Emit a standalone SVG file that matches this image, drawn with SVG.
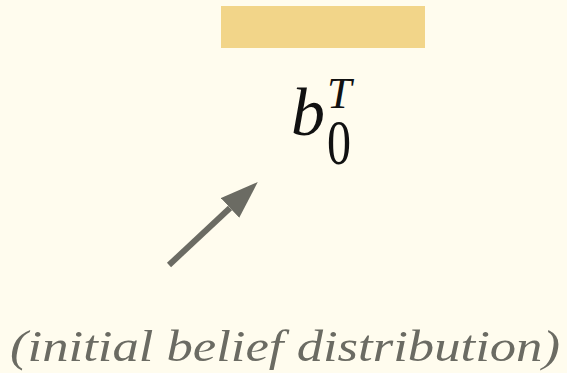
<svg xmlns="http://www.w3.org/2000/svg" width="567" height="373" viewBox="0 0 567 373">
<style>
.math{font-family:"Liberation Serif","DejaVu Serif",serif;fill:#111}
.it{font-style:italic}
.caption{font-family:"Liberation Serif","DejaVu Serif",serif;font-style:italic;fill:#6b6b63;font-size:45px}
.conn{stroke:#6b6b63;stroke-width:6;fill:none}
</style>
<defs>
<marker id="ah" viewBox="0 0 38 27" refX="0" refY="13.5" markerWidth="38" markerHeight="27" orient="auto" markerUnits="userSpaceOnUse">
<path d="M0,0 L38,13.5 L0,27 Z" fill="#6b6b63"/>
</marker>
</defs>
<rect width="567" height="373" fill="#fffcee"/>
<g id="bar">
<rect x="221" y="6" width="204" height="42" fill="#f2d589"/>
</g>
<g id="belief">
<text class="math it" x="291" y="135" font-size="68">b</text>
<text class="math it" x="327" y="108" font-size="44">T</text>
<text class="math" x="327" y="164" font-size="64" textLength="24" lengthAdjust="spacingAndGlyphs">0</text>
</g>
<g id="connectors">
<line class="conn" x1="169" y1="265" x2="230" y2="208" marker-end="url(#ah)"/>
</g>
<g id="label">
<text class="caption" x="10" y="361" textLength="550" lengthAdjust="spacingAndGlyphs">(initial belief distribution)</text>
</g>
</svg>
